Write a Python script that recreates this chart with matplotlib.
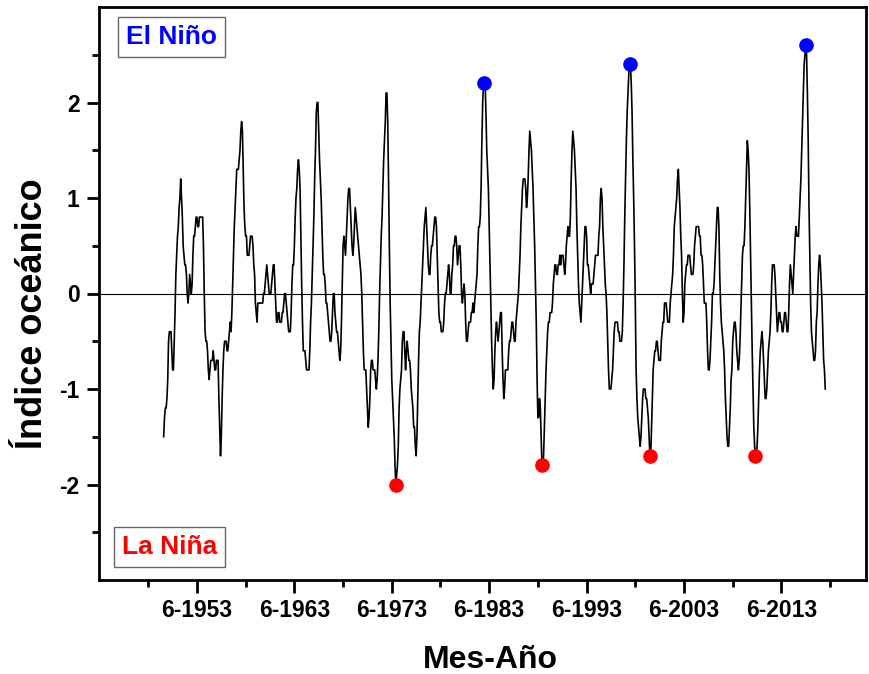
import matplotlib
matplotlib.use("Agg")
import matplotlib.pyplot as plt
from matplotlib.ticker import FixedLocator
import numpy as np

plt.rcParams['font.family'] = ['Liberation Sans', 'DejaVu Sans']

# Monthly oceanic index (3-month running means), Jan 1950 - Dec 2017
start_year = 1950
oni = [
    -1.5, -1.3, -1.2, -1.2, -1.1, -0.9, -0.5, -0.4, -0.4, -0.4, -0.6, -0.8,  # 1950
    -0.8, -0.5, -0.2, 0.2, 0.4, 0.6, 0.7, 0.9, 1.0, 1.2, 1.0, 0.8,         # 1951
    0.5, 0.4, 0.3, 0.3, 0.2, 0.0, -0.1, 0.0, 0.2, 0.1, 0.0, 0.1,           # 1952
    0.4, 0.6, 0.6, 0.7, 0.8, 0.8, 0.7, 0.7, 0.8, 0.8, 0.8, 0.8,            # 1953
    0.8, 0.5, 0.0, -0.4, -0.5, -0.5, -0.6, -0.8, -0.9, -0.8, -0.7, -0.7,   # 1954
    -0.7, -0.6, -0.7, -0.8, -0.8, -0.7, -0.7, -0.7, -1.1, -1.4, -1.7, -1.5,  # 1955
    -1.1, -0.8, -0.6, -0.5, -0.5, -0.5, -0.6, -0.6, -0.5, -0.4, -0.3, -0.4,  # 1956
    -0.2, 0.1, 0.4, 0.7, 0.9, 1.1, 1.3, 1.3, 1.3, 1.4, 1.5, 1.7,           # 1957
    1.8, 1.7, 1.3, 0.9, 0.7, 0.6, 0.6, 0.4, 0.4, 0.4, 0.5, 0.6,            # 1958
    0.6, 0.6, 0.5, 0.3, 0.2, -0.1, -0.2, -0.3, -0.1, -0.1, -0.1, -0.1,     # 1959
    -0.1, -0.1, -0.1, 0.0, 0.0, 0.1, 0.2, 0.3, 0.2, 0.1, 0.0, 0.0,         # 1960
    0.0, 0.1, 0.2, 0.3, 0.3, 0.1, -0.1, -0.3, -0.3, -0.2, -0.2, -0.3,      # 1961
    -0.3, -0.3, -0.2, -0.2, -0.1, 0.0, 0.0, -0.1, -0.2, -0.3, -0.4, -0.4,  # 1962
    -0.4, -0.2, 0.1, 0.3, 0.3, 0.5, 0.8, 1.0, 1.1, 1.3, 1.4, 1.3,          # 1963
    1.1, 0.6, 0.1, -0.3, -0.6, -0.6, -0.6, -0.7, -0.8, -0.8, -0.8, -0.8,   # 1964
    -0.6, -0.3, -0.1, 0.2, 0.5, 0.8, 1.2, 1.5, 1.9, 2.0, 2.0, 1.7,         # 1965
    1.4, 1.2, 1.0, 0.7, 0.4, 0.2, 0.2, 0.1, -0.1, -0.1, -0.2, -0.3,        # 1966
    -0.4, -0.5, -0.5, -0.4, -0.2, 0.0, 0.0, -0.2, -0.3, -0.4, -0.4, -0.5,  # 1967
    -0.6, -0.7, -0.6, -0.3, 0.1, 0.5, 0.6, 0.5, 0.4, 0.6, 0.8, 1.0,        # 1968
    1.1, 1.1, 0.9, 0.7, 0.5, 0.4, 0.5, 0.7, 0.9, 0.8, 0.7, 0.6,            # 1969
    0.5, 0.4, 0.3, 0.2, 0.0, -0.3, -0.6, -0.8, -0.8, -0.8, -1.0, -1.2,     # 1970
    -1.4, -1.3, -1.1, -0.8, -0.7, -0.7, -0.8, -0.8, -0.8, -0.9, -1.0, -0.9,  # 1971
    -0.7, -0.4, 0.0, 0.3, 0.6, 0.8, 1.1, 1.4, 1.6, 1.8, 2.1, 2.1,          # 1972
    1.8, 1.2, 0.5, -0.1, -0.5, -0.9, -1.1, -1.3, -1.5, -1.8, -2.0, -1.9,   # 1973
    -1.8, -1.6, -1.2, -1.0, -0.9, -0.8, -0.5, -0.4, -0.4, -0.6, -0.8, -0.6,  # 1974
    -0.5, -0.6, -0.7, -0.7, -0.8, -1.0, -1.1, -1.2, -1.4, -1.4, -1.6, -1.7,  # 1975
    -1.5, -1.1, -0.7, -0.4, -0.3, -0.1, 0.1, 0.3, 0.5, 0.7, 0.8, 0.9,      # 1976
    0.7, 0.5, 0.3, 0.2, 0.2, 0.4, 0.5, 0.5, 0.6, 0.7, 0.8, 0.8,            # 1977
    0.7, 0.4, 0.1, -0.2, -0.3, -0.3, -0.4, -0.4, -0.4, -0.3, -0.1, 0.0,    # 1978
    0.0, 0.1, 0.2, 0.3, 0.2, 0.0, 0.0, 0.2, 0.3, 0.5, 0.5, 0.6,            # 1979
    0.6, 0.5, 0.3, 0.4, 0.5, 0.5, 0.3, 0.0, -0.1, 0.0, 0.1, 0.0,           # 1980
    -0.3, -0.5, -0.5, -0.4, -0.3, -0.3, -0.3, -0.2, -0.2, -0.1, -0.2, -0.1,  # 1981
    0.0, 0.1, 0.2, 0.5, 0.7, 0.7, 0.8, 1.1, 1.6, 2.0, 2.2, 2.2,            # 1982
    2.2, 1.9, 1.5, 1.3, 1.1, 0.7, 0.3, -0.1, -0.5, -0.8, -1.0, -0.9,       # 1983
    -0.6, -0.4, -0.3, -0.4, -0.5, -0.4, -0.3, -0.2, -0.2, -0.6, -0.9, -1.1,  # 1984
    -1.0, -0.8, -0.8, -0.8, -0.8, -0.6, -0.5, -0.5, -0.4, -0.3, -0.3, -0.4,  # 1985
    -0.5, -0.5, -0.3, -0.2, -0.1, 0.0, 0.2, 0.4, 0.7, 0.9, 1.1, 1.2,       # 1986
    1.2, 1.2, 1.1, 0.9, 1.0, 1.2, 1.5, 1.7, 1.6, 1.5, 1.3, 1.1,            # 1987
    0.8, 0.5, 0.1, -0.3, -0.9, -1.3, -1.3, -1.1, -1.2, -1.5, -1.8, -1.8,   # 1988
    -1.7, -1.4, -1.1, -0.8, -0.6, -0.4, -0.3, -0.3, -0.2, -0.2, -0.2, -0.1,  # 1989
    0.1, 0.2, 0.3, 0.3, 0.2, 0.2, 0.3, 0.3, 0.4, 0.3, 0.4, 0.4,            # 1990
    0.4, 0.3, 0.2, 0.3, 0.5, 0.6, 0.7, 0.6, 0.6, 0.8, 1.2, 1.5,            # 1991
    1.7, 1.6, 1.5, 1.3, 1.1, 0.7, 0.4, 0.1, -0.1, -0.2, -0.3, -0.1,        # 1992
    0.1, 0.3, 0.5, 0.7, 0.7, 0.6, 0.3, 0.3, 0.2, 0.1, 0.0, 0.1,            # 1993
    0.1, 0.1, 0.2, 0.3, 0.4, 0.4, 0.4, 0.4, 0.6, 0.7, 1.0, 1.1,            # 1994
    1.0, 0.7, 0.5, 0.3, 0.1, 0.0, -0.2, -0.5, -0.8, -1.0, -1.0, -1.0,      # 1995
    -0.9, -0.8, -0.6, -0.4, -0.3, -0.3, -0.3, -0.3, -0.4, -0.4, -0.5, -0.5,  # 1996
    -0.5, -0.4, -0.1, 0.3, 0.8, 1.2, 1.6, 1.9, 2.1, 2.3, 2.4, 2.4,         # 1997
    2.2, 1.9, 1.4, 1.0, 0.5, -0.1, -0.8, -1.1, -1.3, -1.4, -1.5, -1.6,     # 1998
    -1.5, -1.3, -1.1, -1.0, -1.0, -1.0, -1.1, -1.1, -1.2, -1.3, -1.5, -1.7,  # 1999
    -1.7, -1.4, -1.1, -0.8, -0.7, -0.6, -0.6, -0.5, -0.5, -0.6, -0.7, -0.7,  # 2000
    -0.7, -0.5, -0.4, -0.3, -0.3, -0.1, -0.1, -0.1, -0.2, -0.3, -0.3, -0.3,  # 2001
    -0.1, 0.0, 0.1, 0.2, 0.4, 0.7, 0.8, 0.9, 1.0, 1.2, 1.3, 1.1,           # 2002
    0.9, 0.6, 0.4, 0.0, -0.3, -0.2, 0.1, 0.2, 0.3, 0.3, 0.4, 0.4,          # 2003
    0.4, 0.3, 0.2, 0.2, 0.2, 0.3, 0.5, 0.6, 0.7, 0.7, 0.7, 0.7,            # 2004
    0.6, 0.6, 0.4, 0.4, 0.3, 0.1, -0.1, -0.1, -0.1, -0.3, -0.6, -0.8,      # 2005
    -0.8, -0.7, -0.5, -0.3, 0.0, 0.0, 0.1, 0.3, 0.5, 0.7, 0.9, 0.9,        # 2006
    0.7, 0.2, -0.1, -0.3, -0.4, -0.5, -0.6, -0.8, -1.1, -1.3, -1.5, -1.6,  # 2007
    -1.6, -1.4, -1.2, -0.9, -0.8, -0.5, -0.4, -0.3, -0.3, -0.4, -0.6, -0.7,  # 2008
    -0.8, -0.7, -0.5, -0.2, 0.1, 0.4, 0.5, 0.5, 0.7, 1.0, 1.3, 1.6,        # 2009
    1.5, 1.3, 0.9, 0.4, -0.1, -0.6, -1.0, -1.4, -1.6, -1.7, -1.7, -1.6,    # 2010
    -1.4, -1.1, -0.8, -0.6, -0.5, -0.4, -0.5, -0.7, -0.9, -1.1, -1.1, -1.0,  # 2011
    -0.8, -0.6, -0.5, -0.4, -0.2, 0.1, 0.3, 0.3, 0.3, 0.2, 0.0, -0.2,      # 2012
    -0.4, -0.3, -0.2, -0.2, -0.3, -0.3, -0.4, -0.4, -0.3, -0.2, -0.2, -0.3,  # 2013
    -0.4, -0.4, -0.2, 0.1, 0.3, 0.2, 0.1, 0.0, 0.2, 0.4, 0.6, 0.7,         # 2014
    0.6, 0.6, 0.6, 0.8, 1.0, 1.2, 1.5, 1.8, 2.1, 2.4, 2.5, 2.6,            # 2015
    2.5, 2.1, 1.6, 0.9, 0.4, -0.1, -0.4, -0.5, -0.6, -0.7, -0.7, -0.6,     # 2016
    -0.3, -0.2, 0.1, 0.3, 0.4, 0.3, 0.1, -0.1, -0.4, -0.7, -0.8, -1.0,     # 2017
]

# Highlighted events (year, month) of the series
nino_events = [(1982, 11), (1997, 11), (2015, 12)]
nina_events = [(1973, 11), (1988, 11), (1999, 12), (2010, 10)]

# X tick labels (month-year)
tick_years = [1953, 1963, 1973, 1983, 1993, 2003, 2013]
tick_labels = [f"6-{y}" for y in tick_years]
minor_tick_years = [1948, 1958, 1968, 1978, 1988, 1998, 2008, 2018]

t = start_year + np.arange(len(oni)) / 12.0
vals = np.array(oni)


def event_xy(events):
    idx = [(y - start_year) * 12 + (m - 1) for y, m in events]
    return t[idx], vals[idx]


fig = plt.figure(figsize=(8.70, 6.74), dpi=100)
ax = fig.add_axes([99 / 870, 1 - 580 / 674, 767 / 870, 573 / 674])

ax.axhline(0, color='black', lw=0.8, zorder=1)
ax.plot(t, vals, color='black', lw=1.2, zorder=2)

nx, ny = event_xy(nino_events)
ax.plot(nx, ny, 'o', color='#0000ff', ms=9.5, zorder=3)
lx, ly = event_xy(nina_events)
ax.plot(lx, ly, 'o', color='#ff0000', ms=9.5, zorder=3)

ax.set_xlim(1943.36, 2022.1)
ax.set_ylim(-3, 3)

ax.xaxis.set_major_locator(FixedLocator([y + 5 / 12 for y in tick_years]))
ax.set_xticklabels(tick_labels)
ax.xaxis.set_minor_locator(FixedLocator([y + 5 / 12 for y in minor_tick_years]))
ax.yaxis.set_major_locator(FixedLocator([-2, -1, 0, 1, 2]))
ax.set_yticklabels(['-2', '-1', '0', '1', '2'])
ax.yaxis.set_minor_locator(FixedLocator([-2.5, -1.5, -0.5, 0.5, 1.5, 2.5]))

ax.tick_params(axis='both', which='major', direction='out', length=9, width=2,
               labelsize=16.5, pad=5)
ax.tick_params(axis='both', which='minor', direction='out', length=5, width=2)
for lab in ax.get_xticklabels() + ax.get_yticklabels():
    lab.set_fontweight('bold')

for side in ['left', 'bottom', 'top', 'right']:
    ax.spines[side].set_linewidth(2)

ax.set_ylabel('Índice oceánico', fontsize=26, fontweight='bold')
ax.yaxis.set_label_coords(-0.064, 0.465)
ax.set_xlabel('Mes-Año', fontsize=23, fontweight='bold')
ax.xaxis.set_label_coords(0.51, -0.113)

box = dict(boxstyle='square,pad=0.3', facecolor='white', edgecolor='#666666', lw=1)
ax.text(0.094, 0.947, 'El Niño', transform=ax.transAxes, color='#0000ff',
        fontsize=19, fontweight='bold', ha='center', va='center', bbox=box)
ax.text(0.092, 0.057, 'La Niña', transform=ax.transAxes, color='#ff0000',
        fontsize=19, fontweight='bold', ha='center', va='center', bbox=box)

fig.savefig('out.png', dpi=100)
